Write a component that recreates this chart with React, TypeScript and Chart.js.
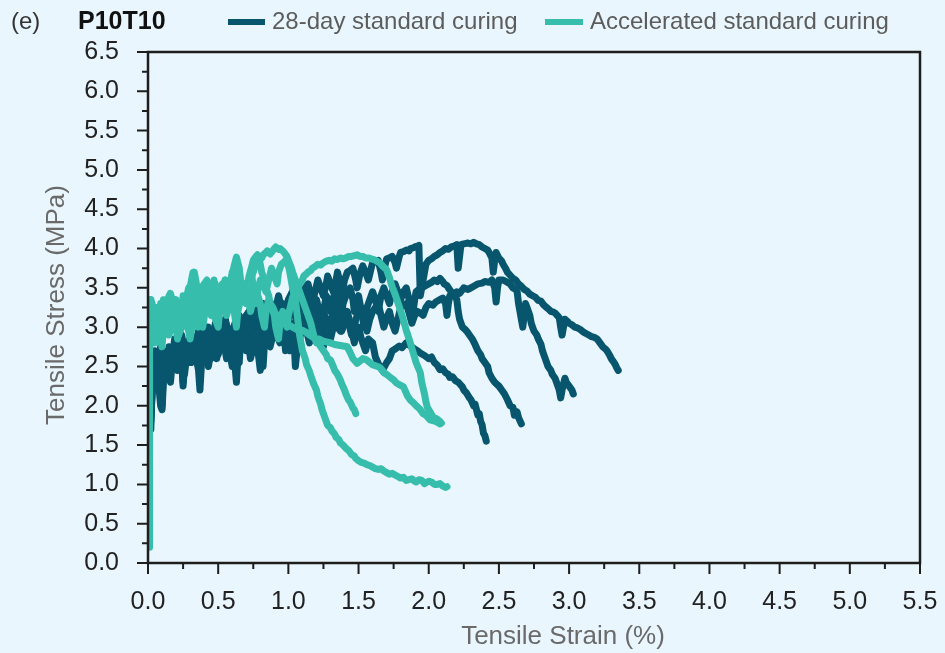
import React, { useEffect, useRef } from 'react';
import { Chart, registerables } from 'chart.js';

Chart.register(...registerables);

// ---------- tick labels ----------
const xTickValues = [0, 0.5, 1.0, 1.5, 2.0, 2.5, 3.0, 3.5, 4.0, 4.5, 5.0, 5.5];
const yTickValues = [0, 0.5, 1.0, 1.5, 2.0, 2.5, 3.0, 3.5, 4.0, 4.5, 5.0, 5.5, 6.0, 6.5];

// ---------- texts ----------
const seriesNames = ['28-day standard curing', 'Accelerated standard curing'];
const panelLabel = '(e)';
const specimenLabel = 'P10T10';
const xTitle = 'Tensile Strain (%)';
const yTitle = 'Tensile Stress (MPa)';

// ---------- 28-day standard curing specimens: [strain %, stress MPa] ----------
const std28Specimen1: [number, number][] = [
  [0.02, 1.8], [0.03, 2.2], [0.04, 2.45], [0.05, 2.6], [0.06, 2.35], [0.07, 2.3], [0.08, 2.55], [0.09, 2.1],
  [0.1, 2.0], [0.11, 2.5], [0.12, 2.6], [0.13, 2.4], [0.14, 2.55], [0.15, 2.75], [0.16, 2.5], [0.17, 2.6],
  [0.19, 2.72], [0.2, 2.7], [0.21, 2.45], [0.22, 2.5], [0.24, 2.6], [0.25, 2.25], [0.26, 2.5], [0.27, 2.65],
  [0.29, 2.55], [0.3, 2.6], [0.32, 2.75], [0.33, 2.8], [0.34, 2.6], [0.35, 2.55], [0.36, 2.45], [0.37, 2.2],
  [0.38, 2.5], [0.39, 2.7], [0.41, 2.62], [0.42, 2.75], [0.44, 2.68], [0.45, 2.6], [0.47, 2.78], [0.48, 2.9],
  [0.49, 2.65], [0.5, 2.7], [0.52, 2.8], [0.53, 2.85], [0.55, 2.7], [0.56, 2.6], [0.58, 2.8], [0.6, 2.95],
  [0.61, 2.7], [0.63, 2.3], [0.64, 2.6], [0.65, 2.8], [0.67, 2.85], [0.68, 2.9], [0.7, 2.7], [0.72, 2.75],
  [0.74, 2.9], [0.75, 3.0], [0.77, 2.8], [0.78, 2.85], [0.8, 2.7], [0.82, 2.5], [0.83, 2.8], [0.85, 2.95],
  [0.87, 2.9], [0.88, 3.05], [0.9, 2.95], [0.92, 2.9], [0.94, 3.0], [0.95, 3.1], [0.97, 2.9], [0.98, 2.7],
  [1.0, 2.95], [1.02, 3.05], [1.04, 2.85], [1.05, 2.5], [1.07, 2.85], [1.08, 3.0], [1.1, 3.05], [1.12, 3.15],
  [1.14, 2.95], [1.15, 2.9], [1.17, 3.05], [1.2, 3.2], [1.22, 3.0], [1.25, 2.75], [1.26, 2.95], [1.28, 3.1],
  [1.3, 3.05], [1.33, 3.25], [1.35, 3.1], [1.38, 2.95], [1.4, 3.05], [1.42, 3.2], [1.44, 3.05], [1.47, 2.8],
  [1.48, 2.95], [1.5, 3.0], [1.52, 2.85], [1.55, 2.7], [1.57, 2.85], [1.6, 2.8], [1.62, 2.62], [1.65, 2.5],
  [1.67, 2.45], [1.7, 2.55], [1.72, 2.6], [1.74, 2.7], [1.76, 2.72], [1.79, 2.76], [1.81, 2.74], [1.84, 2.8],
  [1.87, 2.76], [1.9, 2.72], [1.92, 2.7], [1.94, 2.67], [1.97, 2.64], [2.0, 2.6], [2.02, 2.62], [2.04, 2.55],
  [2.06, 2.52], [2.08, 2.46], [2.1, 2.47], [2.12, 2.42], [2.14, 2.4], [2.15, 2.36], [2.17, 2.37], [2.19, 2.32],
  [2.21, 2.3], [2.22, 2.28], [2.24, 2.24], [2.25, 2.2], [2.27, 2.16], [2.29, 2.1], [2.3, 2.08], [2.32, 2.0],
  [2.33, 2.02], [2.35, 1.88], [2.36, 1.9], [2.37, 1.8], [2.38, 1.76], [2.39, 1.65], [2.4, 1.62], [2.41, 1.55],
];

const std28Specimen2: [number, number][] = [
  [0.02, 1.9], [0.03, 2.2], [0.04, 2.5], [0.05, 2.55], [0.06, 2.65], [0.07, 2.4], [0.08, 2.2], [0.09, 2.0],
  [0.1, 1.95], [0.11, 2.3], [0.12, 2.6], [0.13, 2.55], [0.14, 2.7], [0.16, 2.62], [0.17, 2.55], [0.18, 2.7],
  [0.19, 2.85], [0.21, 2.75], [0.22, 2.7], [0.23, 2.82], [0.24, 2.9], [0.26, 2.7], [0.27, 2.6], [0.29, 2.75],
  [0.3, 2.85], [0.32, 2.78], [0.33, 2.7], [0.35, 2.85], [0.36, 2.95], [0.38, 2.8], [0.39, 2.75], [0.41, 2.9],
  [0.42, 3.0], [0.44, 2.85], [0.45, 2.8], [0.47, 2.95], [0.48, 3.05], [0.5, 2.95], [0.52, 2.85], [0.54, 3.0],
  [0.55, 3.1], [0.57, 2.9], [0.58, 2.7], [0.6, 2.85], [0.62, 2.95], [0.64, 3.05], [0.65, 3.15], [0.67, 3.0],
  [0.68, 2.9], [0.7, 3.1], [0.72, 3.2], [0.74, 3.05], [0.75, 2.95], [0.77, 3.15], [0.78, 3.25], [0.8, 3.0],
  [0.82, 2.6], [0.83, 2.95], [0.85, 3.2], [0.87, 3.25], [0.88, 3.3], [0.9, 3.15], [0.92, 3.05], [0.94, 3.2],
  [0.96, 3.3], [0.98, 3.2], [1.0, 3.1], [1.02, 3.25], [1.03, 3.35], [1.05, 3.15], [1.06, 3.0], [1.08, 3.2],
  [1.1, 3.3], [1.12, 3.4], [1.14, 3.45], [1.16, 3.25], [1.17, 3.1], [1.19, 3.3], [1.2, 3.35], [1.22, 3.2],
  [1.24, 3.0], [1.26, 3.3], [1.27, 3.4], [1.29, 3.3], [1.3, 3.2], [1.32, 3.38], [1.34, 3.45], [1.36, 3.25],
  [1.37, 3.05], [1.39, 3.3], [1.4, 3.35], [1.42, 3.45], [1.44, 3.5], [1.46, 3.35], [1.47, 3.2], [1.49, 3.35],
  [1.5, 3.4], [1.52, 3.2], [1.54, 3.0], [1.56, 3.25], [1.57, 3.3], [1.59, 3.4], [1.6, 3.45], [1.62, 3.35],
  [1.64, 3.2], [1.66, 3.4], [1.68, 3.5], [1.7, 3.4], [1.72, 3.3], [1.74, 3.45], [1.76, 3.55], [1.78, 3.45],
  [1.8, 3.35], [1.82, 3.45], [1.84, 3.5], [1.86, 3.35], [1.88, 3.1], [1.9, 3.35], [1.91, 3.45], [1.93, 3.48],
  [1.95, 3.5], [1.98, 3.53], [2.0, 3.55], [2.02, 3.57], [2.04, 3.6], [2.06, 3.58], [2.08, 3.62], [2.1, 3.58],
  [2.11, 3.55], [2.13, 3.53], [2.14, 3.5], [2.16, 3.45], [2.17, 3.4], [2.19, 3.38], [2.2, 3.35], [2.21, 3.2],
  [2.22, 3.1], [2.23, 3.05], [2.24, 3.0], [2.26, 2.97], [2.27, 2.95], [2.29, 2.9], [2.31, 2.85], [2.33, 2.78],
  [2.35, 2.7], [2.37, 2.65], [2.38, 2.6], [2.4, 2.55], [2.42, 2.5], [2.43, 2.42], [2.45, 2.35], [2.47, 2.3],
  [2.5, 2.25], [2.52, 2.2], [2.54, 2.15], [2.56, 2.08], [2.58, 2.0], [2.6, 1.98], [2.61, 1.88], [2.63, 1.92],
  [2.64, 1.85], [2.66, 1.77],
];

const std28Specimen3: [number, number][] = [
  [0.02, 1.7], [0.03, 2.3], [0.04, 2.55], [0.05, 2.7], [0.06, 2.6], [0.07, 2.5], [0.08, 2.62], [0.09, 2.75],
  [0.1, 2.55], [0.11, 2.4], [0.12, 2.5], [0.13, 2.55], [0.15, 2.45], [0.16, 2.3], [0.17, 2.5], [0.18, 2.65],
  [0.2, 2.6], [0.21, 2.55], [0.22, 2.7], [0.23, 2.8], [0.25, 2.6], [0.26, 2.4], [0.27, 2.55], [0.28, 2.7],
  [0.3, 2.62], [0.31, 2.55], [0.33, 2.75], [0.34, 2.85], [0.36, 2.7], [0.37, 2.6], [0.39, 2.7], [0.4, 2.75],
  [0.42, 2.6], [0.43, 2.5], [0.45, 2.7], [0.46, 2.8], [0.48, 2.72], [0.5, 2.65], [0.52, 2.8], [0.53, 2.9],
  [0.55, 2.82], [0.57, 2.75], [0.59, 2.6], [0.6, 2.5], [0.62, 2.75], [0.63, 2.85], [0.65, 2.75], [0.66, 2.7],
  [0.68, 2.85], [0.7, 2.95], [0.72, 2.75], [0.73, 2.6], [0.75, 2.75], [0.77, 2.85], [0.79, 2.6], [0.8, 2.45],
  [0.82, 2.75], [0.83, 2.9], [0.85, 2.8], [0.87, 2.75], [0.89, 2.9], [0.9, 3.0], [0.92, 2.88], [0.94, 2.8],
  [0.96, 2.95], [0.97, 3.05], [0.99, 2.85], [1.01, 2.7], [1.03, 2.85], [1.04, 2.95], [1.06, 2.9], [1.08, 2.85],
  [1.1, 3.0], [1.11, 3.1], [1.13, 2.95], [1.15, 2.8], [1.17, 2.95], [1.19, 3.05], [1.21, 2.95], [1.22, 2.9],
  [1.24, 3.05], [1.26, 3.15], [1.28, 3.0], [1.3, 2.85], [1.32, 3.0], [1.33, 3.1], [1.35, 3.0], [1.37, 2.95],
  [1.39, 3.1], [1.41, 3.2], [1.43, 3.05], [1.45, 2.9], [1.47, 3.0], [1.48, 3.1], [1.5, 3.18], [1.52, 3.25],
  [1.54, 3.1], [1.56, 2.95], [1.58, 3.1], [1.6, 3.2], [1.62, 3.25], [1.64, 3.3], [1.66, 3.15], [1.68, 3.0],
  [1.7, 3.12], [1.72, 3.2], [1.74, 3.05], [1.76, 2.95], [1.78, 3.1], [1.8, 3.25], [1.82, 3.28], [1.84, 3.3],
  [1.86, 3.18], [1.88, 3.05], [1.9, 3.15], [1.92, 3.2], [1.94, 3.18], [1.96, 3.15], [1.98, 3.25], [2.0, 3.3],
  [2.03, 3.28], [2.05, 3.32], [2.08, 3.35], [2.1, 3.37], [2.12, 3.3], [2.13, 3.15], [2.14, 3.3], [2.15, 3.4],
  [2.18, 3.42], [2.2, 3.45], [2.22, 3.43], [2.25, 3.5], [2.28, 3.48], [2.3, 3.5], [2.33, 3.53], [2.35, 3.55],
  [2.38, 3.56], [2.4, 3.58], [2.43, 3.57], [2.45, 3.6], [2.47, 3.5], [2.48, 3.32], [2.49, 3.5], [2.5, 3.6],
  [2.53, 3.6], [2.55, 3.58], [2.58, 3.55], [2.6, 3.5], [2.62, 3.48], [2.63, 3.45], [2.64, 3.3], [2.65, 3.2],
  [2.66, 3.1], [2.67, 3.0], [2.68, 3.15], [2.69, 3.3], [2.7, 3.25], [2.72, 3.15], [2.73, 3.05], [2.75, 2.95],
  [2.77, 2.9], [2.78, 2.85], [2.8, 2.78], [2.81, 2.7], [2.83, 2.6], [2.85, 2.5], [2.87, 2.45], [2.88, 2.4],
  [2.9, 2.35], [2.91, 2.3], [2.93, 2.2], [2.94, 2.1], [2.95, 2.2], [2.97, 2.35], [2.98, 2.3], [3.0, 2.25],
  [3.02, 2.2], [3.03, 2.15],
];

const std28Specimen4: [number, number][] = [
  [0.02, 1.85], [0.03, 2.3], [0.04, 2.6], [0.05, 2.5], [0.06, 2.4], [0.07, 2.55], [0.08, 2.7], [0.09, 2.62],
  [0.1, 2.55], [0.11, 2.45], [0.12, 2.35], [0.13, 2.55], [0.14, 2.7], [0.16, 2.65], [0.17, 2.6], [0.18, 2.7],
  [0.2, 2.8], [0.21, 2.72], [0.23, 2.65], [0.24, 2.5], [0.25, 2.3], [0.26, 2.55], [0.28, 2.75], [0.29, 2.82],
  [0.31, 2.9], [0.32, 2.8], [0.34, 2.7], [0.35, 2.82], [0.37, 2.95], [0.38, 2.85], [0.4, 2.75], [0.41, 2.88],
  [0.43, 3.0], [0.45, 2.9], [0.46, 2.85], [0.48, 2.7], [0.49, 2.6], [0.5, 2.8], [0.52, 2.95], [0.54, 3.02],
  [0.55, 3.1], [0.57, 2.95], [0.59, 2.85], [0.6, 2.95], [0.62, 3.05], [0.63, 2.8], [0.65, 2.55], [0.66, 2.85],
  [0.68, 3.1], [0.7, 3.15], [0.72, 3.2], [0.73, 3.05], [0.75, 2.9], [0.77, 3.1], [0.79, 3.2], [0.8, 3.25],
  [0.82, 3.3], [0.84, 3.15], [0.86, 3.05], [0.88, 3.15], [0.9, 3.25], [0.92, 3.32], [0.93, 3.4], [0.95, 3.25],
  [0.97, 3.15], [0.99, 3.28], [1.0, 3.35], [1.02, 3.42], [1.04, 3.5], [1.05, 3.35], [1.07, 3.2], [1.09, 3.35],
  [1.1, 3.45], [1.12, 3.5], [1.14, 3.55], [1.16, 3.4], [1.17, 3.3], [1.19, 3.45], [1.21, 3.6], [1.23, 3.5],
  [1.25, 3.4], [1.27, 3.55], [1.28, 3.65], [1.3, 3.55], [1.32, 3.45], [1.34, 3.6], [1.35, 3.7], [1.37, 3.55],
  [1.38, 3.4], [1.4, 3.6], [1.42, 3.7], [1.44, 3.72], [1.46, 3.75], [1.48, 3.6], [1.49, 3.5], [1.51, 3.68],
  [1.53, 3.78], [1.55, 3.7], [1.57, 3.6], [1.59, 3.75], [1.6, 3.82], [1.62, 3.83], [1.64, 3.85], [1.66, 3.7],
  [1.67, 3.6], [1.69, 3.8], [1.7, 3.87], [1.72, 3.88], [1.74, 3.9], [1.76, 3.82], [1.77, 3.75], [1.79, 3.9],
  [1.8, 3.95], [1.82, 3.96], [1.84, 3.98], [1.86, 3.97], [1.87, 4.0], [1.89, 4.01], [1.9, 4.02], [1.92, 4.03],
  [1.93, 4.04], [1.935, 3.7], [1.94, 3.4], [1.95, 3.5], [1.97, 3.7], [1.98, 3.8], [2.0, 3.85], [2.02, 3.87],
  [2.04, 3.9], [2.06, 3.92], [2.08, 3.95], [2.1, 3.97], [2.12, 4.0], [2.14, 3.99], [2.16, 4.02], [2.18, 4.03],
  [2.2, 4.05], [2.21, 3.75], [2.22, 3.9], [2.23, 4.05], [2.25, 4.06], [2.28, 4.07], [2.3, 4.06], [2.32, 4.08],
  [2.34, 4.06], [2.36, 4.05], [2.38, 4.02], [2.4, 4.0], [2.42, 3.98], [2.43, 3.95], [2.45, 3.88], [2.46, 3.7],
  [2.47, 3.85], [2.48, 3.95], [2.5, 3.88], [2.52, 3.84], [2.53, 3.8], [2.55, 3.74], [2.56, 3.7], [2.58, 3.66],
  [2.6, 3.62], [2.62, 3.6], [2.64, 3.55], [2.66, 3.52], [2.68, 3.48], [2.7, 3.46], [2.72, 3.42], [2.74, 3.4],
  [2.76, 3.38], [2.78, 3.34], [2.8, 3.33], [2.82, 3.28], [2.84, 3.25], [2.86, 3.22], [2.87, 3.2], [2.89, 3.19],
  [2.9, 3.18], [2.92, 3.14], [2.93, 3.12], [2.94, 3.0], [2.95, 2.9], [2.96, 3.0], [2.97, 3.1], [2.99, 3.07],
  [3.0, 3.05], [3.02, 3.03], [3.04, 3.0], [3.06, 2.99], [3.08, 2.97], [3.1, 2.94], [3.12, 2.92], [3.14, 2.9],
  [3.16, 2.88], [3.18, 2.87], [3.2, 2.85], [3.22, 2.8], [3.24, 2.75], [3.26, 2.72], [3.27, 2.7], [3.29, 2.64],
  [3.3, 2.6], [3.32, 2.55], [3.33, 2.52], [3.34, 2.48], [3.35, 2.45],
];

// ---------- accelerated standard curing specimens ----------
const accSpecimen1: [number, number][] = [
  [0.008, 0.2], [0.01, 1.5], [0.012, 3.3], [0.015, 3.35], [0.02, 3.1], [0.025, 2.95], [0.03, 2.8], [0.04, 3.0],
  [0.05, 3.15], [0.06, 3.05], [0.07, 2.95], [0.08, 3.1], [0.09, 3.3], [0.1, 3.15], [0.11, 3.05], [0.12, 3.0],
  [0.13, 3.2], [0.15, 3.4], [0.16, 3.25], [0.17, 3.1], [0.19, 3.25], [0.2, 3.35], [0.21, 3.15], [0.23, 2.95],
  [0.24, 3.1], [0.26, 3.3], [0.28, 3.42], [0.29, 3.5], [0.3, 3.35], [0.32, 3.2], [0.33, 3.3], [0.35, 3.45],
  [0.36, 3.3], [0.38, 3.1], [0.39, 3.3], [0.41, 3.5], [0.42, 3.42], [0.44, 3.3], [0.45, 3.45], [0.47, 3.6],
  [0.48, 3.45], [0.5, 3.25], [0.51, 3.4], [0.53, 3.55], [0.54, 3.48], [0.56, 3.35], [0.58, 3.5], [0.6, 3.7],
  [0.61, 3.5], [0.63, 3.3], [0.64, 3.42], [0.66, 3.55], [0.68, 3.48], [0.7, 3.4], [0.72, 3.5], [0.74, 3.65],
  [0.75, 3.5], [0.77, 3.3], [0.78, 3.45], [0.8, 3.6], [0.82, 3.55], [0.84, 3.45], [0.86, 3.6], [0.88, 3.75],
  [0.9, 3.65], [0.92, 3.55], [0.93, 3.7], [0.95, 3.8], [0.97, 3.83], [0.98, 3.85], [1.0, 3.78], [1.01, 3.7],
  [1.02, 3.6], [1.03, 3.5], [1.05, 3.35], [1.06, 3.2], [1.07, 3.05], [1.08, 2.9], [1.09, 2.8], [1.1, 2.7],
  [1.12, 2.6], [1.13, 2.52], [1.15, 2.44], [1.16, 2.38], [1.18, 2.28], [1.2, 2.2], [1.21, 2.12], [1.23, 2.02],
  [1.24, 1.95], [1.26, 1.85], [1.27, 1.8], [1.28, 1.75], [1.3, 1.72], [1.31, 1.68], [1.33, 1.64], [1.34, 1.6],
  [1.36, 1.57], [1.37, 1.53], [1.39, 1.5], [1.41, 1.46], [1.43, 1.43], [1.45, 1.38], [1.47, 1.36], [1.48, 1.33],
  [1.5, 1.3], [1.52, 1.28], [1.54, 1.27], [1.56, 1.25], [1.58, 1.24], [1.6, 1.22], [1.62, 1.2], [1.64, 1.19],
  [1.66, 1.2], [1.68, 1.17], [1.7, 1.15], [1.72, 1.13], [1.74, 1.14], [1.76, 1.12], [1.78, 1.1], [1.8, 1.08],
  [1.82, 1.09], [1.84, 1.05], [1.86, 1.06], [1.88, 1.07], [1.9, 1.04], [1.91, 1.03], [1.93, 1.06], [1.95, 1.05],
  [1.97, 1.01], [1.98, 1.02], [2.0, 1.04], [2.02, 1.03], [2.04, 1.0], [2.06, 1.0], [2.08, 1.01], [2.1, 0.98],
  [2.12, 0.96], [2.13, 0.97],
];

const accSpecimen2: [number, number][] = [
  [0.01, 2.9], [0.02, 3.15], [0.03, 3.3], [0.04, 3.1], [0.05, 2.9], [0.07, 3.05], [0.08, 3.2], [0.09, 3.0],
  [0.1, 2.85], [0.12, 3.1], [0.13, 3.35], [0.15, 3.2], [0.16, 3.05], [0.18, 3.2], [0.19, 3.3], [0.21, 3.1],
  [0.22, 2.9], [0.24, 3.05], [0.25, 3.2], [0.27, 3.1], [0.28, 3.0], [0.3, 3.2], [0.31, 3.4], [0.32, 3.55],
  [0.33, 3.7], [0.35, 3.5], [0.36, 3.3], [0.38, 3.15], [0.39, 3.0], [0.41, 3.25], [0.42, 3.45], [0.44, 3.3],
  [0.45, 3.15], [0.47, 3.35], [0.48, 3.5], [0.5, 3.4], [0.51, 3.3], [0.53, 3.45], [0.55, 3.6], [0.56, 3.45],
  [0.58, 3.25], [0.6, 3.35], [0.61, 3.5], [0.63, 3.65], [0.64, 3.8], [0.65, 3.65], [0.67, 3.5], [0.69, 3.4],
  [0.7, 3.3], [0.72, 3.45], [0.73, 3.6], [0.75, 3.7], [0.76, 3.75], [0.78, 3.85], [0.79, 3.9], [0.81, 3.88],
  [0.82, 3.92], [0.84, 3.95], [0.85, 3.97], [0.87, 3.93], [0.88, 3.95], [0.9, 4.0], [0.91, 4.02], [0.93, 3.99],
  [0.94, 4.0], [0.96, 3.97], [0.97, 3.95], [0.99, 3.9], [1.0, 3.85], [1.02, 3.76], [1.03, 3.7], [1.05, 3.6],
  [1.06, 3.55], [1.08, 3.45], [1.1, 3.35], [1.12, 3.25], [1.13, 3.2], [1.15, 3.1], [1.16, 3.05], [1.18, 2.9],
  [1.2, 2.8], [1.21, 2.82], [1.23, 2.75], [1.25, 2.7], [1.27, 2.65], [1.28, 2.6], [1.3, 2.58], [1.32, 2.5],
  [1.33, 2.45], [1.35, 2.4], [1.37, 2.33], [1.38, 2.28], [1.4, 2.2], [1.41, 2.15], [1.43, 2.07], [1.44, 2.05],
  [1.46, 1.97], [1.47, 1.95], [1.48, 1.9],
];

const accSpecimen3: [number, number][] = [
  [0.01, 2.7], [0.02, 2.95], [0.03, 3.1], [0.04, 2.95], [0.05, 2.8], [0.06, 2.9], [0.07, 3.0], [0.09, 2.85],
  [0.1, 2.75], [0.11, 3.0], [0.12, 3.2], [0.14, 3.05], [0.15, 2.9], [0.17, 3.05], [0.18, 3.15], [0.2, 3.0],
  [0.21, 2.85], [0.23, 3.1], [0.24, 3.3], [0.26, 3.15], [0.27, 3.05], [0.29, 2.95], [0.3, 2.85], [0.32, 3.1],
  [0.33, 3.25], [0.35, 3.1], [0.36, 3.0], [0.38, 3.15], [0.4, 3.3], [0.41, 3.4], [0.43, 3.55], [0.44, 3.4],
  [0.46, 3.2], [0.48, 3.1], [0.5, 3.0], [0.51, 3.2], [0.53, 3.4], [0.55, 3.25], [0.56, 3.15], [0.58, 3.3],
  [0.6, 3.45], [0.61, 3.25], [0.63, 3.0], [0.64, 3.2], [0.66, 3.35], [0.68, 3.45], [0.7, 3.55], [0.71, 3.4],
  [0.73, 3.2], [0.75, 3.35], [0.77, 3.5], [0.78, 3.42], [0.8, 3.3], [0.81, 3.15], [0.83, 3.0], [0.84, 3.2],
  [0.86, 3.35], [0.88, 3.25], [0.9, 3.15], [0.91, 3.0], [0.93, 2.85], [0.94, 3.05], [0.96, 3.2], [0.97, 3.1],
  [0.99, 3.0], [1.0, 3.15], [1.02, 3.3], [1.03, 3.38], [1.05, 3.45], [1.07, 3.5], [1.08, 3.55], [1.1, 3.6],
  [1.11, 3.65], [1.13, 3.68], [1.14, 3.7], [1.16, 3.72], [1.17, 3.75], [1.19, 3.77], [1.21, 3.8], [1.23, 3.79],
  [1.25, 3.82], [1.27, 3.84], [1.29, 3.85], [1.31, 3.84], [1.33, 3.87], [1.35, 3.86], [1.37, 3.88], [1.39, 3.87],
  [1.41, 3.88], [1.43, 3.9], [1.45, 3.9], [1.47, 3.91], [1.49, 3.92], [1.51, 3.9], [1.53, 3.9], [1.55, 3.88],
  [1.57, 3.88], [1.59, 3.87], [1.61, 3.86], [1.63, 3.84], [1.65, 3.82], [1.67, 3.78], [1.7, 3.73], [1.72, 3.63],
  [1.74, 3.51], [1.76, 3.42], [1.79, 3.26], [1.81, 3.15], [1.84, 2.96], [1.86, 2.85], [1.89, 2.67], [1.91, 2.55],
  [1.94, 2.42], [1.95, 2.3], [1.97, 2.15], [1.98, 2.05], [1.99, 1.98], [2.01, 1.92], [2.03, 1.86], [2.05, 1.84],
  [2.06, 1.83], [2.08, 1.8], [2.09, 1.78],
];

const accSpecimen4: [number, number][] = [
  [0.01, 3.0], [0.015, 3.2], [0.02, 3.35], [0.03, 3.15], [0.04, 3.0], [0.05, 3.1], [0.06, 3.25], [0.08, 3.1],
  [0.09, 2.95], [0.1, 3.15], [0.11, 3.35], [0.13, 3.22], [0.14, 3.1], [0.15, 3.3], [0.16, 3.43], [0.18, 3.3],
  [0.19, 3.2], [0.21, 3.1], [0.22, 3.0], [0.24, 3.2], [0.25, 3.4], [0.27, 3.25], [0.28, 3.15], [0.29, 3.35],
  [0.3, 3.5], [0.31, 3.6], [0.32, 3.69], [0.34, 3.5], [0.35, 3.3], [0.37, 3.42], [0.38, 3.5], [0.4, 3.55],
  [0.42, 3.6], [0.44, 3.45], [0.45, 3.35], [0.47, 3.45], [0.48, 3.55], [0.5, 3.42], [0.52, 3.3], [0.54, 3.45],
  [0.55, 3.6], [0.57, 3.52], [0.58, 3.45], [0.6, 3.6], [0.61, 3.75], [0.62, 3.82], [0.63, 3.89], [0.65, 3.75],
  [0.66, 3.6], [0.68, 3.5], [0.69, 3.4], [0.71, 3.55], [0.72, 3.65], [0.74, 3.78], [0.75, 3.85], [0.77, 3.9],
  [0.78, 3.92], [0.8, 3.8], [0.81, 3.7], [0.83, 3.6], [0.84, 3.5], [0.86, 3.4], [0.87, 3.3], [0.89, 3.25],
  [0.9, 3.2], [0.92, 3.14], [0.94, 3.09], [0.96, 3.08], [0.98, 3.05], [1.0, 3.03], [1.03, 3.0], [1.05, 2.98],
  [1.08, 2.95], [1.1, 2.96], [1.13, 2.93], [1.15, 2.9], [1.17, 2.88], [1.2, 2.84], [1.22, 2.85], [1.25, 2.82],
  [1.28, 2.81], [1.3, 2.8], [1.33, 2.78], [1.36, 2.77], [1.39, 2.76], [1.42, 2.75], [1.44, 2.68], [1.46, 2.6],
  [1.48, 2.56], [1.49, 2.54], [1.51, 2.57], [1.53, 2.6], [1.55, 2.59], [1.56, 2.58], [1.58, 2.55], [1.6, 2.52],
  [1.62, 2.51], [1.65, 2.49], [1.67, 2.45], [1.68, 2.42], [1.7, 2.4], [1.72, 2.37], [1.75, 2.33], [1.77, 2.29],
  [1.8, 2.26], [1.82, 2.24], [1.84, 2.16], [1.85, 2.12], [1.87, 2.07], [1.89, 2.04], [1.91, 2.0], [1.93, 1.97],
  [1.94, 1.95], [1.96, 1.9], [1.98, 1.88], [2.0, 1.84], [2.01, 1.82], [2.03, 1.81], [2.05, 1.8], [2.07, 1.78],
  [2.08, 1.77],
];

const std28Specimens = [std28Specimen1, std28Specimen2, std28Specimen3, std28Specimen4];
const accSpecimens = [accSpecimen1, accSpecimen2, accSpecimen3, accSpecimen4];

// ---------- styles ----------
const BG = 'rgb(233,246,253)';
const DARK = '#07566e';
const TEAL = '#37bdac';
const AXIS = '#1e1e1e';
const FONT = "'Liberation Sans', Arial, sans-serif";

const decorPlugin = {
  id: 'decor',
  beforeDraw(chart: any) {
    const { ctx, width, height } = chart;
    ctx.save();
    ctx.fillStyle = BG;
    ctx.fillRect(0, 0, width, height);
    ctx.restore();
  },
  afterDatasetsDraw(chart: any) {
    const { ctx, chartArea: a, scales } = chart;
    const xs = scales.x;
    const ys = scales.y;
    ctx.save();
    ctx.strokeStyle = AXIS;
    ctx.lineWidth = 2.5;
    ctx.strokeRect(a.left, a.top, a.right - a.left, a.bottom - a.top);
    ctx.lineWidth = 2;
    ctx.beginPath();
    for (let i = 0; i < xTickValues.length; i++) {
      const p = xs.getPixelForValue(xTickValues[i]);
      ctx.moveTo(p, a.bottom);
      ctx.lineTo(p, a.bottom + 11);
      if (i < xTickValues.length - 1) {
        const m = xs.getPixelForValue((xTickValues[i] + xTickValues[i + 1]) / 2);
        ctx.moveTo(m, a.bottom);
        ctx.lineTo(m, a.bottom + 6);
      }
    }
    for (let i = 0; i < yTickValues.length; i++) {
      const p = ys.getPixelForValue(yTickValues[i]);
      ctx.moveTo(a.left, p);
      ctx.lineTo(a.left - 11, p);
      if (i < yTickValues.length - 1) {
        const m = ys.getPixelForValue((yTickValues[i] + yTickValues[i + 1]) / 2);
        ctx.moveTo(a.left, m);
        ctx.lineTo(a.left - 6, m);
      }
    }
    ctx.stroke();

    // axis titles
    ctx.fillStyle = '#6a6a6a';
    ctx.font = `26px ${FONT}`;
    ctx.textAlign = 'center';
    ctx.textBaseline = 'middle';
    ctx.fillText(xTitle, 563, 637);
    ctx.save();
    ctx.translate(57, 305);
    ctx.rotate(-Math.PI / 2);
    ctx.fillText(yTitle, 0, 0);
    ctx.restore();

    // header / legend
    ctx.textAlign = 'left';
    ctx.textBaseline = 'middle';
    ctx.fillStyle = '#333333';
    ctx.font = `24px ${FONT}`;
    ctx.fillText(panelLabel, 11, 22);
    ctx.fillStyle = '#111111';
    ctx.font = `bold 25px ${FONT}`;
    ctx.fillText(specimenLabel, 78, 22);

    ctx.fillStyle = DARK;
    ctx.fillRect(228, 19, 37, 6);
    ctx.fillStyle = TEAL;
    ctx.fillRect(545, 19, 38, 6);
    ctx.fillStyle = '#5c5c5c';
    ctx.font = `24px ${FONT}`;
    ctx.fillText(seriesNames[0], 272, 22);
    ctx.fillText(seriesNames[1], 590, 22);
    ctx.restore();
  },
};

export default function App() {
  const canvasRef = useRef<HTMLCanvasElement | null>(null);

  useEffect(() => {
    const canvas = canvasRef.current;
    if (!canvas) return;

    const mk = (pts: [number, number][], color: string, label: string) => ({
      label,
      data: pts.map(([x, y]) => ({ x, y })),
      borderColor: color,
      backgroundColor: color,
      borderWidth: 7,
      pointRadius: 0,
      showLine: true,
      tension: 0,
      borderJoinStyle: 'round' as const,
      borderCapStyle: 'round' as const,
      fill: false,
    });

    const datasets = [
      ...accSpecimens.map((s) => mk(s, TEAL, seriesNames[1])),
      ...std28Specimens.map((s) => mk(s, DARK, seriesNames[0])),
    ];

    const chart = new Chart(canvas, {
      type: 'scatter',
      data: { datasets },
      options: {
        animation: false,
        responsive: false,
        events: [],
        layout: { padding: { top: 52, right: 25, left: 0, bottom: 0 } },
        plugins: { legend: { display: false }, tooltip: { enabled: false }, title: { display: false } },
        scales: {
          x: {
            type: 'linear',
            min: 0,
            max: 5.5,
            grid: { display: false, drawTicks: false },
            border: { display: false },
            afterBuildTicks: (scale: any) => {
              scale.ticks = xTickValues.map((v) => ({ value: v }));
            },
            afterFit: (scale: any) => {
              scale.height = 90;
              scale.paddingLeft = 0;
              scale.paddingRight = 0;
            },
            ticks: {
              autoSkip: false,
              maxRotation: 0,
              padding: 24,
              color: '#222222',
              font: { family: FONT, size: 25 },
              callback: (v: any) => Number(v).toFixed(1),
            },
          },
          y: {
            type: 'linear',
            min: 0,
            max: 6.5,
            grid: { display: false, drawTicks: false },
            border: { display: false },
            afterBuildTicks: (scale: any) => {
              scale.ticks = yTickValues.map((v) => ({ value: v }));
            },
            afterFit: (scale: any) => {
              scale.width = 148;
              scale.paddingTop = 0;
              scale.paddingBottom = 0;
            },
            ticks: {
              autoSkip: false,
              padding: 29,
              color: '#222222',
              font: { family: FONT, size: 25 },
              callback: (v: any) => Number(v).toFixed(1),
            },
          },
        },
      },
      plugins: [decorPlugin],
    });

    return () => chart.destroy();
  }, []);

  return (
    <div style={{ position: 'absolute', left: 0, top: 0, width: 945, height: 653, background: BG }}>
      <canvas ref={canvasRef} width={945} height={653} style={{ display: 'block' }} />
    </div>
  );
}
